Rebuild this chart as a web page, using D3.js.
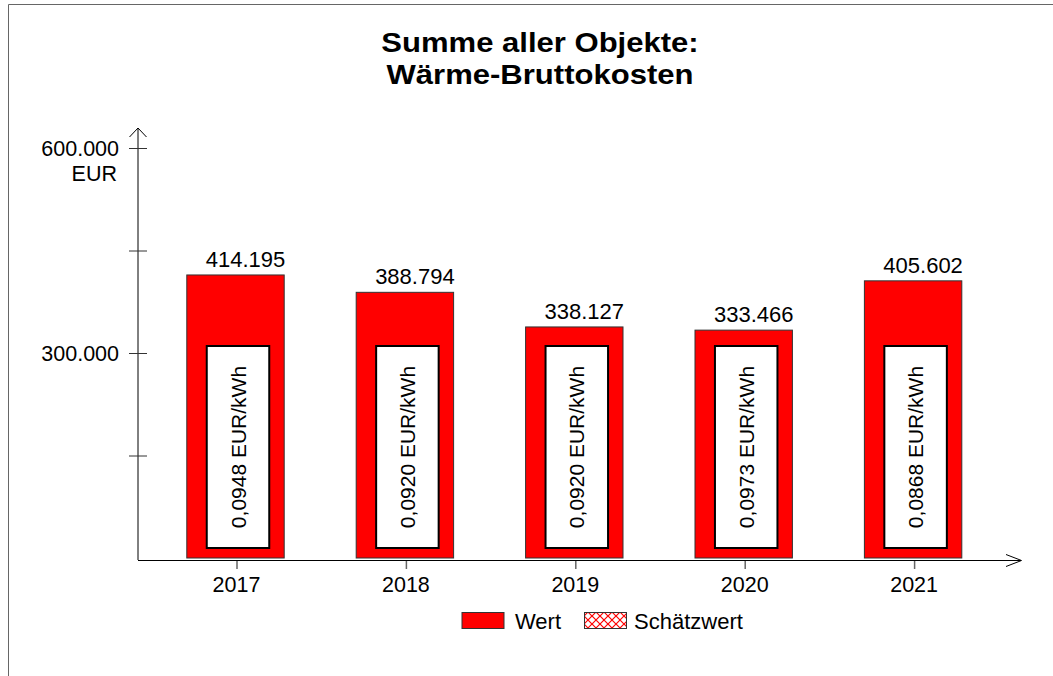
<!DOCTYPE html>
<html><head><meta charset="utf-8">
<script src="https://cdn.jsdelivr.net/npm/d3@7"></script>
<style>
html,body{margin:0;padding:0;background:#fff;}
text{font-family:"Liberation Sans",Arial,sans-serif;fill:#000;}
</style></head>
<body><svg id="c" width="1053" height="676"></svg>
<script>
const years = ["2017","2018","2019","2020","2021"];
const values = [414195, 388794, 338127, 333466, 405602];
const pricePerKWh = [0.0948, 0.0920, 0.0920, 0.0973, 0.0868];
const yTicks = [0, 150000, 300000, 450000, 600000];
const yTickLabels = ["", "", "300.000", "", "600.000"];
const titleLines = ["Summe aller Objekte:", "Wärme-Bruttokosten"];
const legendItems = ["Wert", "Schätzwert"];
const unitLabel = "EUR";

const de = d3.formatLocale({decimal:",", thousands:".", grouping:[3], currency:["","€"]});
const fmtVal = de.format(",.0f");
const fmtPrice = de.format(".4f");

const svg = d3.select("#c");
const defs = svg.append("defs");
const pat = defs.append("pattern").attr("id","hatch").attr("patternUnits","userSpaceOnUse")
  .attr("width",8).attr("height",8);
pat.append("rect").attr("width",8).attr("height",8).attr("fill","#fff");
pat.append("path").attr("d","M0,0L8,8M8,0L0,8").attr("stroke","#ff0000").attr("stroke-width",1.2);

// frame
svg.append("path").attr("d","M8.5,676V4.5H1053").attr("fill","none").attr("stroke","#666").attr("stroke-width",1);

// title
titleLines.forEach((t,i)=>{
  svg.append("text").attr("transform",`translate(540,${52+i*32}) scale(1.15,1)`)
    .attr("text-anchor","middle").attr("font-weight","bold").attr("font-size",27).text(t);
});

const x = d3.scaleBand().domain(years).range([150.8, 997.8]).paddingInner(0.425).paddingOuter(0.2125);
const y = d3.scaleLinear().domain([0, 600000]).range([558, 148]);
const axX = 138;

// y axis
svg.append("line").attr("x1",axX).attr("x2",axX).attr("y1",y(0)+2).attr("y2",128).attr("stroke","#000");
svg.append("path").attr("d",`M${axX-8.5},137L${axX},128L${axX+8.5},137`).attr("fill","none").attr("stroke","#000");
svg.append("g").selectAll("line").data(yTicks.slice(1)).join("line")
  .attr("x1",axX-9).attr("x2",axX+9).attr("y1",d=>y(d)+0.5).attr("y2",d=>y(d)+0.5).attr("stroke","#333");
svg.append("g").selectAll("text").data(yTicks).join("text")
  .attr("x",119).attr("y",d=>y(d)+8).attr("text-anchor","end").attr("font-size",21.5)
  .text((d,i)=>yTickLabels[i]);
svg.append("text").attr("x",117).attr("y",y(600000)+33).attr("text-anchor","end").attr("font-size",21.5).text(unitLabel);

// bars
const g = svg.append("g");
years.forEach((yr,i)=>{
  const bx = x(yr), bw = x.bandwidth(), cx = bx + bw/2;
  g.append("rect").attr("x",bx).attr("y",y(values[i])).attr("width",bw).attr("height",y(0)-y(values[i]))
    .attr("fill","#ff0000").attr("stroke","#333").attr("stroke-width",1);
  const ib = {w:62.5, h:202};
  const bx2 = cx + 2.5 - ib.w/2, by2 = y(0) - 10 - ib.h;
  g.append("rect").attr("x",bx2).attr("y",by2).attr("width",ib.w).attr("height",ib.h)
    .attr("fill","#fff").attr("stroke","#000").attr("stroke-width",2);
  g.append("text").attr("transform",`translate(${cx+2.5+7.5},${by2+ib.h/2}) rotate(-90)`)
    .attr("text-anchor","middle").attr("font-size",21).text(fmtPrice(pricePerKWh[i])+" EUR/kWh");
  g.append("text").attr("x",cx+10).attr("y",y(values[i])-8).attr("text-anchor","middle")
    .attr("font-size",22).text(fmtVal(values[i]));
});

// x axis
svg.append("line").attr("x1",axX).attr("x2",1021).attr("y1",560.5).attr("y2",560.5).attr("stroke","#000");
svg.append("path").attr("d","M1006,554.5L1021.5,560.5L1006,566.5").attr("fill","none").attr("stroke","#000");
svg.append("g").selectAll("line").data(years).join("line")
  .attr("x1",d=>x(d)+x.bandwidth()/2+1.5).attr("x2",d=>x(d)+x.bandwidth()/2+1.5)
  .attr("y1",561).attr("y2",569).attr("stroke","#666").attr("stroke-width",1.5);
svg.append("g").selectAll("text").data(years).join("text")
  .attr("x",d=>x(d)+x.bandwidth()/2+1).attr("y",592).attr("text-anchor","middle").attr("font-size",21.5)
  .text(d=>d);

// legend
const lg = svg.append("g");
lg.append("rect").attr("x",462).attr("y",612.5).attr("width",42).attr("height",16).attr("fill","#ff0000").attr("stroke","#333");
lg.append("text").attr("x",515).attr("y",629).attr("font-size",22).text(legendItems[0]);
lg.append("rect").attr("x",584.5).attr("y",612.5).attr("width",42).attr("height",16).attr("fill","url(#hatch)").attr("stroke","#333");
lg.append("text").attr("x",634).attr("y",629).attr("font-size",22).text(legendItems[1]);
</script></body></html>
